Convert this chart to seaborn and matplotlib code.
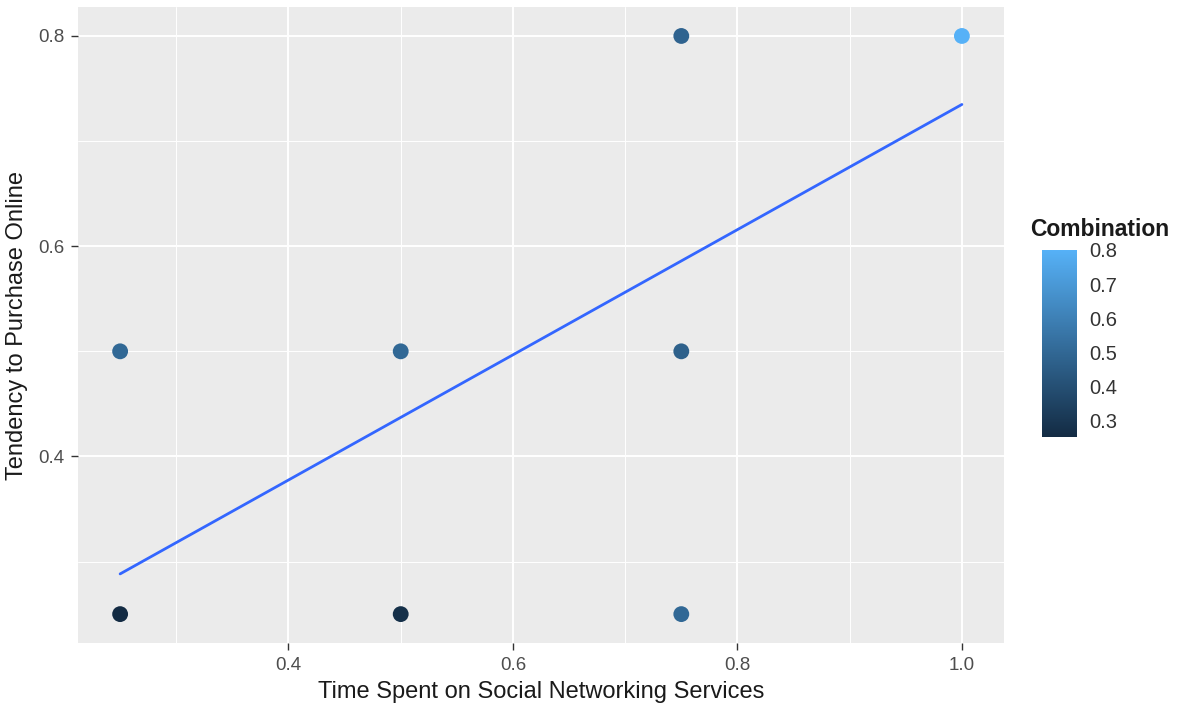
import numpy as np
import pandas as pd
import matplotlib
matplotlib.use("Agg")
import matplotlib.pyplot as plt
from matplotlib.colors import LinearSegmentedColormap, Normalize
from matplotlib.cm import ScalarMappable
from matplotlib.ticker import MultipleLocator
import seaborn as sns

# Survey responses (scaled scores), one row per distinct answer pair
time_spent = [0.25, 0.50, 0.75, 0.25, 0.50, 0.75, 0.75, 1.00]
purchase_tendency = [0.25, 0.25, 0.25, 0.50, 0.50, 0.50, 0.80, 0.80]
combination = [0.25, 0.27, 0.50, 0.50, 0.50, 0.47, 0.48, 0.80]
respondents = [3, 1, 1, 1, 3, 2, 1, 3]

x_ticks = [0.4, 0.6, 0.8, 1.0]
y_ticks = [0.4, 0.6, 0.8]
cbar_ticks = [0.3, 0.4, 0.5, 0.6, 0.7, 0.8]

xcol = "Time Spent on Social Networking Services"
ycol = "Tendency to Purchase Online"

df = pd.DataFrame({
    xcol: time_spent,
    ycol: purchase_tendency,
    "Combination": combination,
    "n": respondents,
})
# one row per respondent for the linear fit
obs = df.loc[df.index.repeat(df["n"])].reset_index(drop=True)

sns.set_theme(style="darkgrid")
plt.rcParams["font.family"] = ["Liberation Sans", "DejaVu Sans"]

cmap = LinearSegmentedColormap.from_list("gg_blues", ["#132B43", "#56B1F7"])
norm = Normalize(vmin=0.25, vmax=0.8)

fig = plt.figure(figsize=(11.77, 7.06), dpi=100)
ax = fig.add_axes([0.0663, 0.0892, 0.7867, 0.9008])
ax.set_facecolor("#EBEBEB")

sns.regplot(data=obs, x=xcol, y=ycol, scatter=False, ci=None, truncate=True,
            color="#3366FF", line_kws={"linewidth": 2.0, "zorder": 2}, ax=ax)
sns.scatterplot(data=df, x=xcol, y=ycol, hue="Combination", palette=cmap,
                hue_norm=norm, s=130, linewidth=0, legend=False, ax=ax, zorder=3)

ax.set_xlim(0.2125, 1.0375)
ax.set_ylim(0.2225, 0.8275)
ax.set_xticks(x_ticks)
ax.set_yticks(y_ticks)
ax.set_xticklabels([f"{v:.1f}" for v in x_ticks])
ax.set_yticklabels([f"{v:.1f}" for v in y_ticks])
ax.xaxis.set_minor_locator(MultipleLocator(0.1))
ax.yaxis.set_minor_locator(MultipleLocator(0.1))
ax.grid(which="major", color="white", linewidth=1.4)
ax.grid(which="minor", color="white", linewidth=0.7)
ax.set_axisbelow(True)
for sp in ax.spines.values():
    sp.set_visible(False)
ax.tick_params(axis="both", which="major", direction="out", length=5, width=1,
               color="#333333", labelcolor="#4D4D4D", labelsize=13.5, pad=5,
               bottom=True, left=True)
ax.tick_params(axis="both", which="minor", length=0)
ax.set_xlabel(xcol, fontsize=17, color="#1A1A1A", labelpad=5)
ax.set_ylabel(ycol, fontsize=17, color="#1A1A1A", labelpad=7)

# continuous colour bar for Combination
cax = fig.add_axes([1042 / 1177, 1 - 437 / 706, 35 / 1177, 187 / 706])
sm = ScalarMappable(norm=norm, cmap=cmap)
cb = fig.colorbar(sm, cax=cax, ticks=cbar_ticks)
cb.outline.set_visible(False)
cb.ax.set_yticklabels([f"{v:.1f}" for v in cbar_ticks])
cb.ax.tick_params(direction="in", color="white", length=6, width=1,
                  left=True, right=True, labelsize=14.5, labelcolor="#333333", pad=9)
fig.text(1030 / 1177, 1 - 229 / 706, "Combination", fontsize=16.5, fontweight="bold",
         color="#1A1A1A", ha="left", va="center")

fig.savefig("out.png", dpi=100)
